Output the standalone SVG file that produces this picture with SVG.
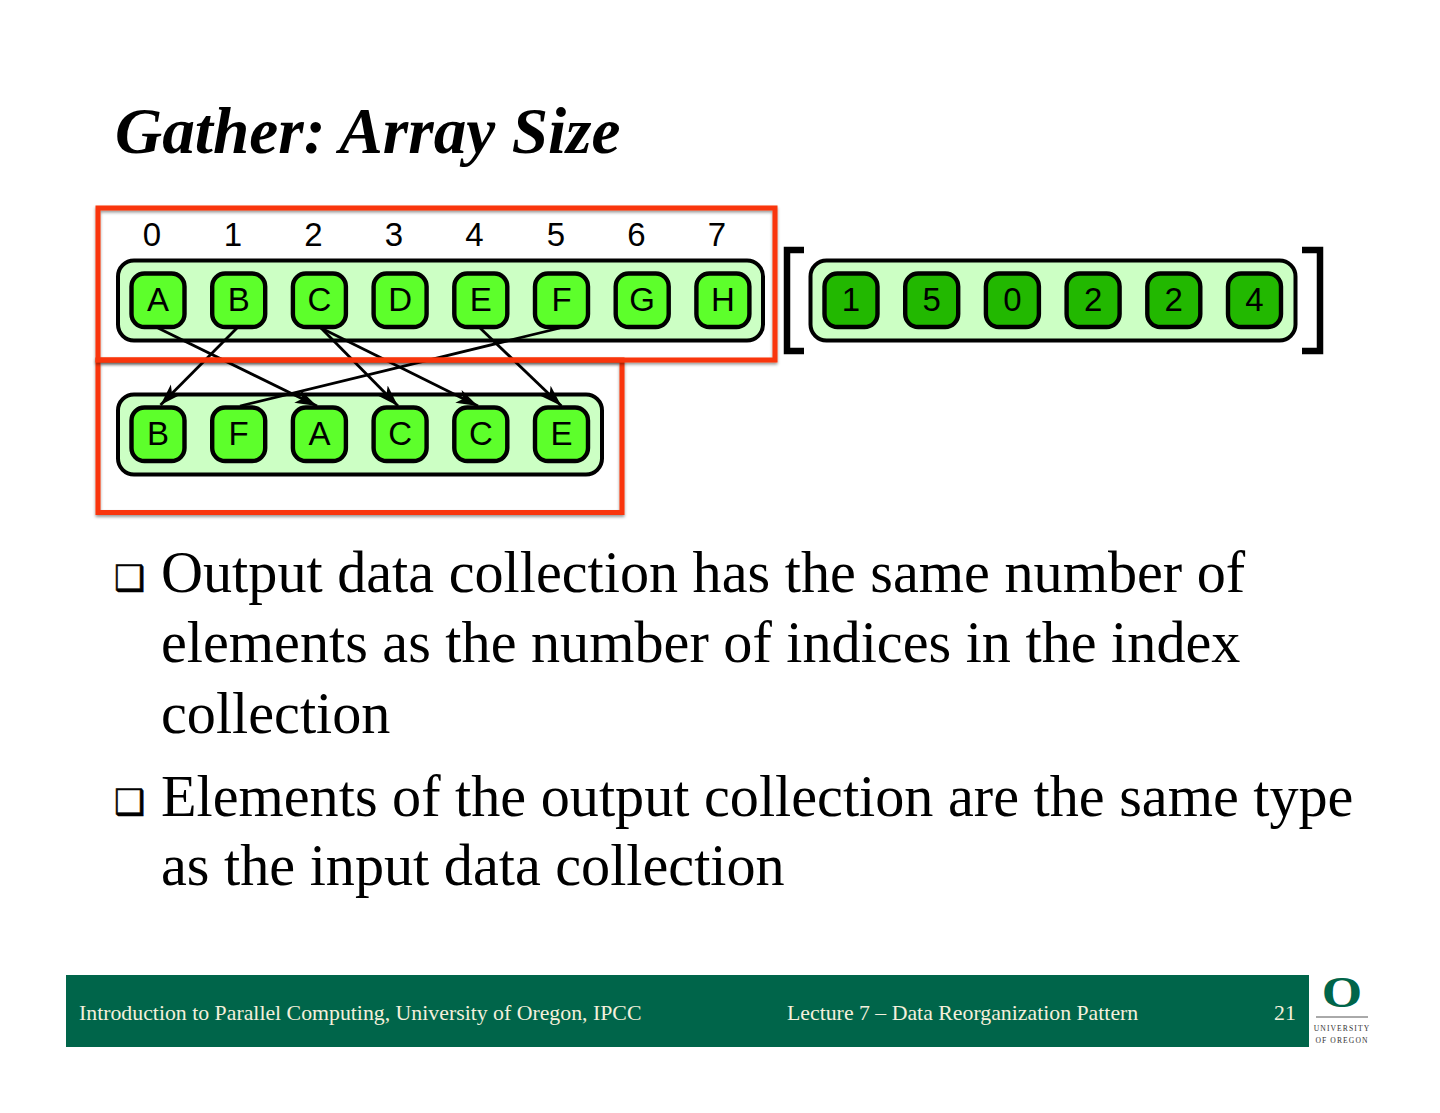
<svg xmlns="http://www.w3.org/2000/svg" width="1440" height="1113" viewBox="0 0 1440 1113">
<style>
.c{fill:#ccffc4;stroke:#000;stroke-width:4}
.n{fill:#5dff2b;stroke:#000;stroke-width:4.4}
.d{fill:#22b800;stroke:#000;stroke-width:4.4}
.s{font-family:"Liberation Sans",Arial,sans-serif;font-size:33px;fill:#000;text-anchor:middle}
.l{font-family:"Liberation Sans",Arial,sans-serif;font-size:33px;fill:#000;text-anchor:middle}
.b{font-family:"Liberation Serif","Times New Roman",serif;font-size:58.2px;fill:#000}
.g{font-family:"DejaVu Sans",sans-serif;font-size:35px;fill:#000;stroke:#000;stroke-width:.5}
.f{font-family:"Liberation Serif","Times New Roman",serif;font-size:21.8px;fill:#f4f0dc}
.r{fill:none;stroke:#f9340a;stroke-width:5;filter:url(#sh)}
.k{fill:none;stroke:#000;stroke-width:6.5}
.a{fill:none;stroke:#000;stroke-width:2.8;marker-end:url(#ah)}
.u{font-family:"Liberation Serif","Times New Roman",serif;font-size:7.6px;fill:#333;letter-spacing:1.1px;text-anchor:middle}
</style>
<defs>
<marker id="ah" markerUnits="userSpaceOnUse" markerWidth="24" markerHeight="20" refX="20" refY="8" orient="auto" viewBox="0 0 22 16"><path d="M0 1.500 L20 8 L0 14.500 L5 8 Z" fill="#000"/></marker>
<filter id="sh" x="-5%" y="-5%" width="110%" height="112%"><feDropShadow dx="0" dy="2" stdDeviation="1.5" flood-color="#000" flood-opacity="0.4"/></filter>
</defs>
<rect width="1440" height="1113" fill="#fff"/>
<text id="title" x="115" y="153" font-family="'Liberation Serif','Times New Roman',serif" font-size="65.300" font-weight="bold" font-style="italic">Gather: Array Size</text>
<g id="index-labels">
<text class="l" x="152" y="246">0</text><text class="l" x="233" y="246">1</text><text class="l" x="313.500" y="246">2</text><text class="l" x="394" y="246">3</text><text class="l" x="474.500" y="246">4</text><text class="l" x="556" y="246">5</text><text class="l" x="636.500" y="246">6</text><text class="l" x="717" y="246">7</text>
</g>
<g id="input-array"><rect class="c" x="118" y="260.500" width="645" height="80" rx="16"/></g>
<g id="output-array"><rect class="c" x="118" y="394.500" width="484" height="80" rx="16"/></g>
<g id="index-array"><rect class="c" x="810.500" y="260.500" width="485" height="80" rx="16"/></g>
<g id="n-A"><rect class="n" x="131.500" y="273.500" width="53" height="53.500" rx="13"/><text class="s" x="158" y="311">A</text></g>
<g id="n-B"><rect class="n" x="212.200" y="273.500" width="53" height="53.500" rx="13"/><text class="s" x="238.700" y="311">B</text></g>
<g id="n-C"><rect class="n" x="292.900" y="273.500" width="53" height="53.500" rx="13"/><text class="s" x="319.400" y="311">C</text></g>
<g id="n-D"><rect class="n" x="373.600" y="273.500" width="53" height="53.500" rx="13"/><text class="s" x="400.100" y="311">D</text></g>
<g id="n-E"><rect class="n" x="454.300" y="273.500" width="53" height="53.500" rx="13"/><text class="s" x="480.800" y="311">E</text></g>
<g id="n-F"><rect class="n" x="535" y="273.500" width="53" height="53.500" rx="13"/><text class="s" x="561.500" y="311">F</text></g>
<g id="n-G"><rect class="n" x="615.700" y="273.500" width="53" height="53.500" rx="13"/><text class="s" x="642.200" y="311">G</text></g>
<g id="n-H"><rect class="n" x="696.400" y="273.500" width="53" height="53.500" rx="13"/><text class="s" x="722.900" y="311">H</text></g>
<g id="o-B"><rect class="n" x="131.500" y="407.500" width="53" height="53.500" rx="13"/><text class="s" x="158" y="445">B</text></g>
<g id="o-F"><rect class="n" x="212.200" y="407.500" width="53" height="53.500" rx="13"/><text class="s" x="238.700" y="445">F</text></g>
<g id="o-A"><rect class="n" x="292.900" y="407.500" width="53" height="53.500" rx="13"/><text class="s" x="319.400" y="445">A</text></g>
<g id="o-C1"><rect class="n" x="373.600" y="407.500" width="53" height="53.500" rx="13"/><text class="s" x="400.100" y="445">C</text></g>
<g id="o-C2"><rect class="n" x="454.300" y="407.500" width="53" height="53.500" rx="13"/><text class="s" x="480.800" y="445">C</text></g>
<g id="o-E"><rect class="n" x="535" y="407.500" width="53" height="53.500" rx="13"/><text class="s" x="561.500" y="445">E</text></g>
<g id="i-0"><rect class="d" x="824.500" y="273.500" width="53" height="53.500" rx="13"/><text class="s" x="851" y="311">1</text></g>
<g id="i-1"><rect class="d" x="905.200" y="273.500" width="53" height="53.500" rx="13"/><text class="s" x="931.700" y="311">5</text></g>
<g id="i-2"><rect class="d" x="985.900" y="273.500" width="53" height="53.500" rx="13"/><text class="s" x="1012.400" y="311">0</text></g>
<g id="i-3"><rect class="d" x="1066.600" y="273.500" width="53" height="53.500" rx="13"/><text class="s" x="1093.100" y="311">2</text></g>
<g id="i-4"><rect class="d" x="1147.300" y="273.500" width="53" height="53.500" rx="13"/><text class="s" x="1173.800" y="311">2</text></g>
<g id="i-5"><rect class="d" x="1228" y="273.500" width="53" height="53.500" rx="13"/><text class="s" x="1254.500" y="311">4</text></g>
<g id="connectors">
<line class="a" x1="158" y1="328" x2="317" y2="406"/>
<line class="a" x1="237" y1="328" x2="160.500" y2="405"/>
<line class="a" x1="321" y1="328" x2="398" y2="406"/>
<line class="a" x1="321" y1="328" x2="478" y2="406"/>
<line class="a" x1="480" y1="328" x2="561.500" y2="406"/>
<line class="a" fill="none" x1="560" y1="328" x2="240" y2="406" style="marker-end:none"/>
</g>
<g id="highlight-output"><rect class="r" x="98" y="360" width="524" height="152.500"/></g>
<g id="highlight-input"><rect class="r" x="98" y="208" width="677" height="152"/></g>
<g id="brackets">
<path class="k" d="M804 250H787V351H804"/>
<path class="k" d="M1302 250H1320V351H1302"/>
</g>
<g id="bullets">
<text class="g" x="114" y="590">❑</text>
<text class="b" x="161" y="592">Output data collection has the same number of</text>
<text class="b" x="161" y="662">elements as the number of indices in the index</text>
<text class="b" x="161" y="733">collection</text>
<text class="g" x="114" y="814">❑</text>
<text class="b" x="161" y="816">Elements of the output collection are the same type</text>
<text class="b" x="161" y="885">as the input data collection</text>
</g>
<g id="footer">
<rect x="66" y="975" width="1243" height="72" fill="#00654a"/>
<text class="f" x="79" y="1020">Introduction to Parallel Computing, University of Oregon, IPCC</text>
<text class="f" x="787" y="1020">Lecture 7 – Data Reorganization Pattern</text>
<text class="f" x="1274" y="1020">21</text>
</g>
<g id="logo">
<text transform="translate(1342 1006.500) scale(1.18 1)" text-anchor="middle" font-family="'Liberation Serif',serif" font-weight="bold" font-size="44" fill="#00654a">O</text>
<line x1="1316" y1="1017" x2="1368" y2="1017" stroke="#555" stroke-width="1"/>
<text class="u" x="1342" y="1031">UNIVERSITY</text>
<text class="u" x="1342" y="1043">OF OREGON</text>
</g>
</svg>
